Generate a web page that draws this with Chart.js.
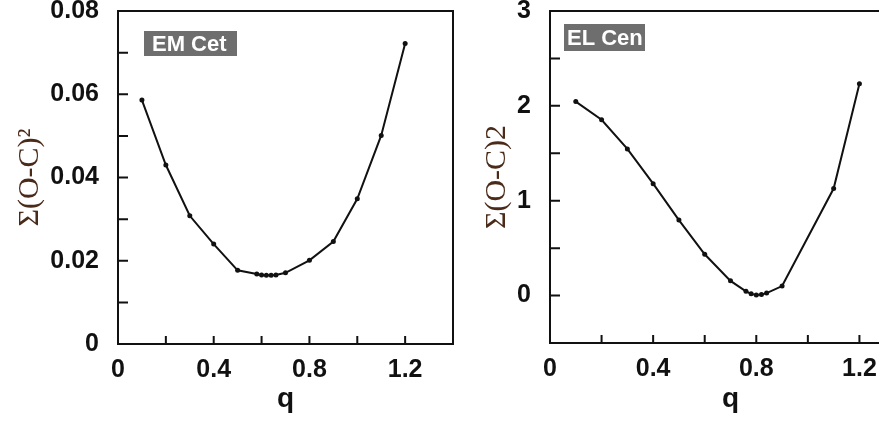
<!DOCTYPE html>
<html>
<head>
<meta charset="utf-8">
<script src="https://cdn.jsdelivr.net/npm/chart.js@4/dist/chart.umd.min.js"></script>
<style>
html,body{margin:0;padding:0;background:#fff;width:879px;height:423px;overflow:hidden;position:relative;}
canvas{position:absolute;top:0;}
#c1{left:0;}
#c2{left:460px;}
</style>
</head>
<body>
<canvas id="c1" width="460" height="423"></canvas>
<canvas id="c2" width="470" height="423"></canvas>
<script>
// ---- EM Cet data ----
const emCetQ = [0.1, 0.2, 0.3, 0.4, 0.5, 0.58, 0.6, 0.62, 0.64, 0.66, 0.7, 0.8, 0.9, 1.0, 1.1, 1.2];
const emCetSum = [0.0586, 0.0430, 0.0308, 0.0240, 0.0177, 0.0168, 0.0166, 0.0165, 0.0165, 0.0166, 0.0171, 0.0201, 0.0246, 0.0349, 0.0501, 0.0722];
// ---- EL Cen data ----
const elCenQ = [0.1, 0.2, 0.3, 0.4, 0.5, 0.6, 0.7, 0.76, 0.78, 0.8, 0.82, 0.84, 0.9, 1.1, 1.2];
const elCenSum = [2.045, 1.853, 1.546, 1.18, 0.796, 0.435, 0.155, 0.045, 0.018, 0.006, 0.012, 0.026, 0.1, 1.128, 2.234];
// ---- labels ----
const panelLabels = ['EM Cet', 'EL Cen'];
const xTitle = 'q';
const yTitles = ['\u03A3(O-C)\u00B2', '\u03A3(O-C)2'];

const tickFont = {family: '"Liberation Sans", Arial, sans-serif', size: 25, weight: 'bold'};
const titleColor = '#4a2a18';

const framePlugin = {
  id: 'frame',
  afterDraw(chart, args, opts) {
    const ctx = chart.ctx;
    const a = chart.chartArea;
    ctx.save();
    ctx.strokeStyle = '#111';
    ctx.lineWidth = 2;
    ctx.strokeRect(a.left, a.top, a.right - a.left, a.bottom - a.top);
    // inward ticks
    const xs = chart.scales.x, ys = chart.scales.y;
    ctx.beginPath();
    xs.ticks.forEach((t, i) => {
      const px = xs.getPixelForTick(i);
      ctx.moveTo(px, a.bottom);
      ctx.lineTo(px, a.bottom - 8);
    });
    ys.ticks.forEach((t, i) => {
      const py = ys.getPixelForTick(i);
      ctx.moveTo(a.left, py);
      ctx.lineTo(a.left + 10, py);
    });
    ctx.stroke();
    // label box
    const b = opts.box;
    const bx = a.left + b.dx, by = a.top + b.dy;
    ctx.fillStyle = '#6e6e6e';
    ctx.fillRect(bx, by, b.w, b.h);
    ctx.beginPath();
    ctx.rect(bx, by, b.w, b.h);
    ctx.clip();
    ctx.fillStyle = '#fff';
    ctx.font = 'bold 22px "Liberation Sans", Arial, sans-serif';
    ctx.textBaseline = 'middle';
    ctx.textAlign = 'left';
    ctx.fillText(b.text, bx + b.tx, by + b.h / 2 + 1);
    ctx.restore();
  }
};

function makeChart(id, q, vals, cfg) {
  return new Chart(document.getElementById(id), {
    type: 'line',
    data: {
      datasets: [{
        data: q.map((x, i) => ({x: x, y: vals[i]})),
        borderColor: '#111',
        backgroundColor: '#111',
        borderWidth: 2,
        pointRadius: 2.5,
        pointBorderWidth: 0,
        pointBackgroundColor: '#111',
        tension: 0
      }]
    },
    options: {
      responsive: false,
      animation: false,
      devicePixelRatio: 1,
      layout: {padding: {top: cfg.padTop, right: cfg.padRight, left: 0, bottom: 0}},
      plugins: {legend: {display: false}, tooltip: {enabled: false}, frame: {box: cfg.box}},
      scales: {
        x: {
          type: 'linear',
          min: 0, max: 1.4,
          grid: {display: false},
          border: {display: false},
          ticks: {
            stepSize: 0.2, autoSkip: false, maxRotation: 0, padding: 3,
            color: '#111', font: tickFont,
            callback: v => (Math.round(v * 10) % 4 === 0 && Math.round(v * 10) < 14) ? (v === 0 ? '0' : v.toFixed(1)) : ''
          },
          title: {display: true, text: xTitle, color: '#111',
            font: {family: '"Liberation Sans", Arial, sans-serif', size: 28, weight: 'bold'},
            padding: {top: 0, bottom: 7}},
          afterFit: s => { s.height = cfg.xHeight; s.paddingLeft = 0; s.paddingRight = 0; }
        },
        y: {
          type: 'linear',
          min: cfg.yMin, max: cfg.yMax,
          grid: {display: false},
          border: {display: false},
          ticks: {
            stepSize: cfg.yStep, autoSkip: false, padding: 11,
            color: '#111', font: tickFont,
            callback: cfg.yCb
          },
          title: {display: true, text: cfg.yTitle, color: titleColor,
            font: {family: '"Liberation Serif", "Times New Roman", serif', size: 30},
            padding: {top: cfg.yTitlePad, bottom: 0}},
          afterFit: s => { s.width = cfg.yWidth; s.paddingTop = 0; s.paddingBottom = 0; }
        }
      }
    },
    plugins: [framePlugin]
  });
}

makeChart('c1', emCetQ, emCetSum, {
  padTop: 11, padRight: 7, xHeight: 79, yWidth: 118, yMin: 0, yMax: 0.08, yStep: 0.01,
  yCb: v => (Math.round(v * 100) % 2 === 0) ? (v === 0 ? '0' : v.toFixed(2)) : '',
  yTitle: yTitles[0], yTitlePad: 12,
  box: {dx: 26, dy: 20, w: 93, h: 25, tx: 8, text: panelLabels[0]}
});

makeChart('c2', elCenQ, elCenSum, {
  padTop: 11, padRight: 19, xHeight: 80, yWidth: 90, yMin: -0.5, yMax: 3, yStep: 0.5,
  yCb: v => (Math.round(v * 2) % 2 === 0) ? String(Math.round(v)) : '',
  yTitle: yTitles[1], yTitlePad: 19,
  box: {dx: 14, dy: 13, w: 81, h: 27, tx: 3, text: panelLabels[1]}
});
</script>
</body>
</html>
